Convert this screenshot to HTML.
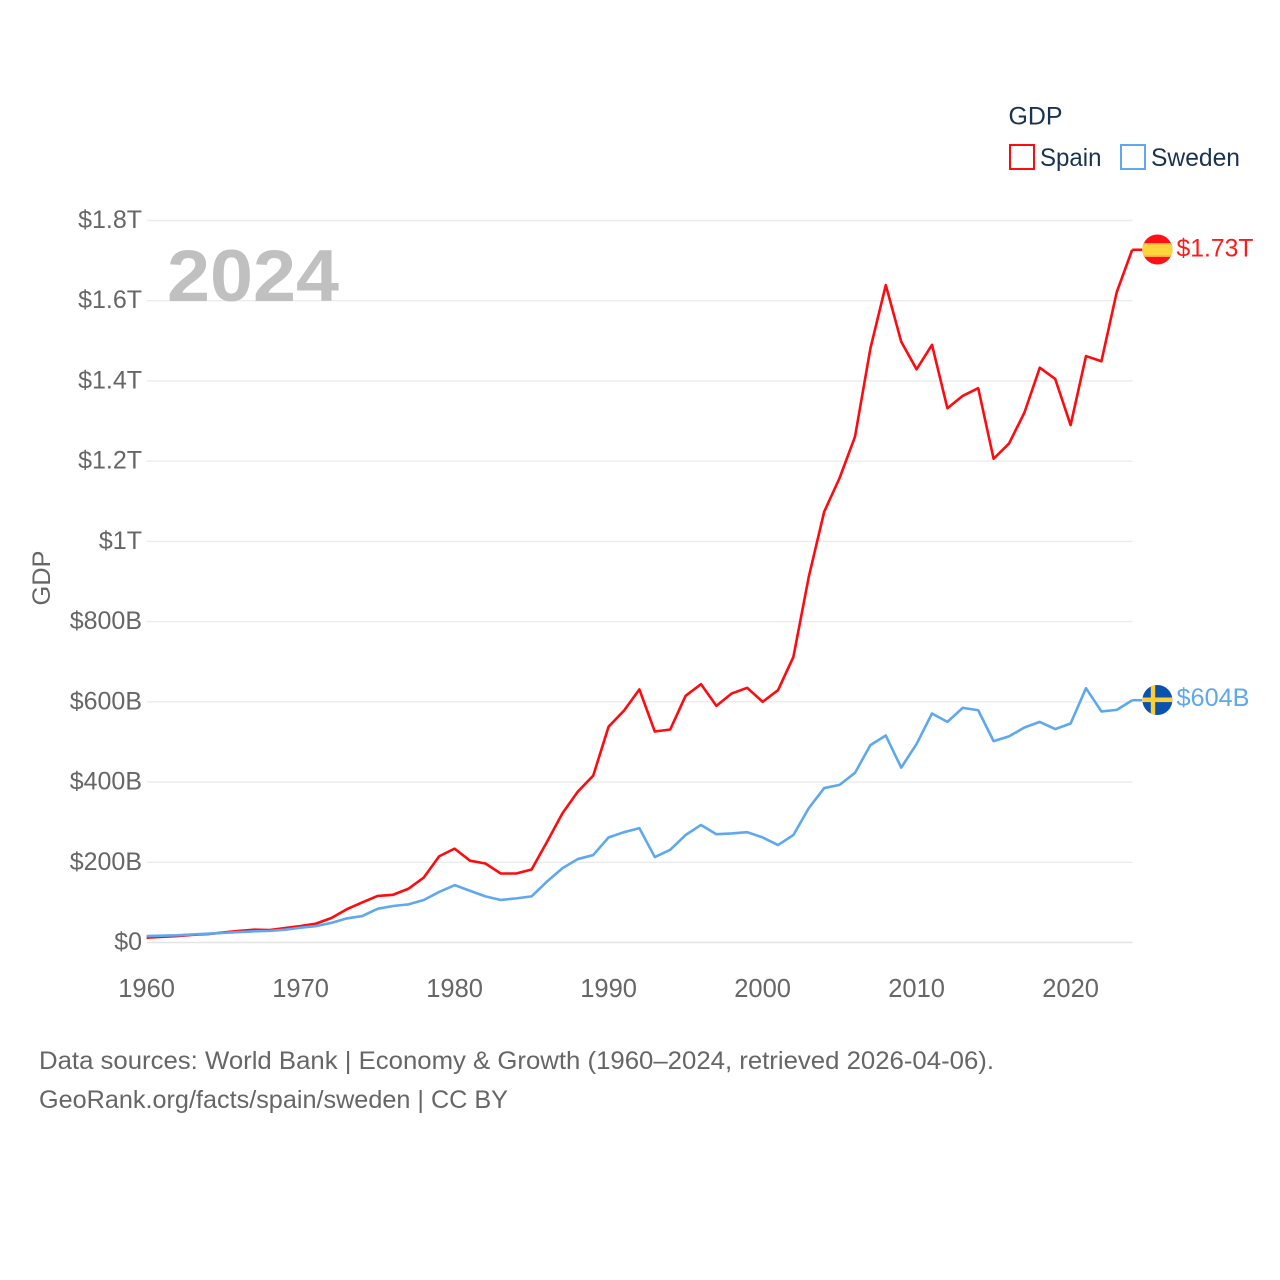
<!DOCTYPE html>
<html lang="en">
<head>
<meta charset="utf-8">
<title>GDP: Spain and Sweden</title>
<style>
html,body{margin:0;padding:0;background:#fff;}
svg{display:block;font-family:"Liberation Sans",sans-serif;}
</style>
</head>
<body>
<svg id="chart" xmlns="http://www.w3.org/2000/svg" width="1280" height="1280" viewBox="0 0 1280 1280">
  <rect x="0" y="0" width="1280" height="1280" fill="#ffffff"/>
  <g id="grid"></g>
  <g id="yticks"></g>
  <g id="xticks"></g>
  <text x="167" y="301" font-size="73" font-weight="700" fill="#c0c0c0" textLength="172" lengthAdjust="spacingAndGlyphs">2024</text>
  <text transform="translate(50,578) rotate(-90)" text-anchor="middle" font-size="25" fill="#666666" textLength="55" lengthAdjust="spacingAndGlyphs">GDP</text>
  <g id="series"></g>
  <defs>
    <clipPath id="clip-es"><circle cx="1157.4" cy="249.5" r="15"/></clipPath>
    <clipPath id="clip-se"><circle cx="1157.4" cy="700" r="15"/></clipPath>
  </defs>
  <g clip-path="url(#clip-es)">
    <rect x="1142" y="234" width="31" height="31" fill="#ff0f17"/>
    <rect x="1142" y="243" width="31" height="14" fill="#f7a83a"/>
    <rect x="1142" y="244.5" width="31" height="11" fill="#ffd53d"/>
  </g>
  <g clip-path="url(#clip-se)">
    <rect x="1142" y="685" width="31" height="31" fill="#0b52ae"/>
    <rect x="1150.8" y="685" width="4.4" height="31" fill="#fdcf33"/>
    <rect x="1142" y="697.5" width="31" height="4.6" fill="#fdcf33"/>
  </g>
  <text id="label-es" x="1176.5" y="256.5" font-size="25" fill="#ff1a1a" textLength="77" lengthAdjust="spacingAndGlyphs"></text>
  <text id="label-se" x="1176.5" y="706" font-size="25" fill="#5ea8ee" textLength="73" lengthAdjust="spacingAndGlyphs"></text>
  <g>
    <text x="1008.5" y="124.5" font-size="25" fill="#1b3352" textLength="54" lengthAdjust="spacingAndGlyphs">GDP</text>
    <rect x="1010" y="145" width="24" height="24" fill="none" stroke="#ff0a0f" stroke-width="2"/>
    <text x="1040" y="166" font-size="25" fill="#1b3352" textLength="61.5" lengthAdjust="spacingAndGlyphs">Spain</text>
    <rect x="1121" y="145" width="24" height="24" fill="none" stroke="#5ea8ee" stroke-width="2"/>
    <text x="1151" y="166" font-size="25" fill="#1b3352" textLength="89" lengthAdjust="spacingAndGlyphs">Sweden</text>
  </g>
  <text x="39" y="1069" font-size="25" fill="#666666" textLength="955" lengthAdjust="spacingAndGlyphs">Data sources: World Bank | Economy &amp; Growth (1960–2024, retrieved 2026-04-06).</text>
  <text x="39" y="1108" font-size="25" fill="#666666" textLength="469" lengthAdjust="spacingAndGlyphs">GeoRank.org/facts/spain/sweden | CC BY</text>
</svg>
<script>
const years = [1960,1961,1962,1963,1964,1965,1966,1967,1968,1969,1970,1971,1972,1973,1974,1975,1976,1977,1978,1979,1980,1981,1982,1983,1984,1985,1986,1987,1988,1989,1990,1991,1992,1993,1994,1995,1996,1997,1998,1999,2000,2001,2002,2003,2004,2005,2006,2007,2008,2009,2010,2011,2012,2013,2014,2015,2016,2017,2018,2019,2020,2021,2022,2023,2024];
const spainValues = [12,14,16,19,21,25,29,32,31,36,41,47,61,83,100,116,119,134,162,215,234,204,197,172,172,182,251,322,376,416,538,578,631,526,531,615,644,590,621,635,600,629,712,912,1074,1158,1261,1481,1639,1498,1429,1490,1332,1363,1382,1206,1244,1321,1433,1405,1290,1462,1449,1622,1727];
const swedenValues = [16,17,18,20,22,24,26,28,29,32,37,41,49,60,66,84,91,95,106,126,143,129,115,106,110,115,152,185,208,218,262,275,285,213,231,268,293,270,272,275,262,243,268,335,385,393,423,492,516,436,495,571,550,585,579,502,514,536,550,532,546,634,576,580,604];
const yTickValues = [0,200,400,600,800,1000,1200,1400,1600,1800];
const yTickLabels = ["$0","$200B","$400B","$600B","$800B","$1T","$1.2T","$1.4T","$1.6T","$1.8T"];
const xTickYears = [1960,1970,1980,1990,2000,2010,2020];
const spainEndLabel = "$1.73T";
const swedenEndLabel = "$604B";

const NS = "http://www.w3.org/2000/svg";
const xScale = function (year) { return 146.6 + (year - 1960) * (1132.2 - 146.6) / 64; };
const yScale = function (value) { return 942.5 - value * (942.5 - 220.5) / 1800; };

const gridGroup = document.getElementById("grid");
const yTickGroup = document.getElementById("yticks");
const xTickGroup = document.getElementById("xticks");
const seriesGroup = document.getElementById("series");

yTickValues.forEach(function (v, i) {
  const line = document.createElementNS(NS, "line");
  
  
  line.setAttribute("x1", 147);
  line.setAttribute("x2", 1132.6);
  line.setAttribute("y1", yScale(v));
  line.setAttribute("y2", yScale(v));
  line.setAttribute("stroke", i === 0 ? "#e4e4e4" : "#ebebeb");
  line.setAttribute("stroke-width", 1.4);
  gridGroup.appendChild(line);

  const label = document.createElementNS(NS, "text");
  
  
  label.setAttribute("x", 142);
  label.setAttribute("y", yScale(v) + 7.5);
  label.setAttribute("text-anchor", "end");
  label.setAttribute("font-size", 25);
  label.setAttribute("fill", "#666666");
  label.textContent = yTickLabels[i];
  yTickGroup.appendChild(label);
});

xTickYears.forEach(function (yr) {
  const label = document.createElementNS(NS, "text");
  
  
  label.setAttribute("x", xScale(yr));
  label.setAttribute("y", 997);
  label.setAttribute("text-anchor", "middle");
  label.setAttribute("font-size", 25.5);
  label.setAttribute("fill", "#666666");
  label.textContent = String(yr);
  xTickGroup.appendChild(label);
});

const buildPoints = function (values) {
  return values.map(function (v, i) {
    return xScale(years[i]).toFixed(2) + "," + yScale(v).toFixed(2);
  }).join(" ");
};

const spainLine = document.createElementNS(NS, "polyline");


spainLine.setAttribute("points", buildPoints(spainValues));
spainLine.setAttribute("fill", "none");
spainLine.setAttribute("stroke", "#ff0a0f");
spainLine.setAttribute("stroke-width", 2.6);
spainLine.setAttribute("stroke-linejoin", "round");
seriesGroup.appendChild(spainLine);

const swedenLine = document.createElementNS(NS, "polyline");


swedenLine.setAttribute("points", buildPoints(swedenValues));
swedenLine.setAttribute("fill", "none");
swedenLine.setAttribute("stroke", "#5ea8ee");
swedenLine.setAttribute("stroke-width", 2.6);
swedenLine.setAttribute("stroke-linejoin", "round");
seriesGroup.appendChild(swedenLine);

const lastYear = years[years.length - 1];
const spainLast = spainValues[spainValues.length - 1];
const swedenLast = swedenValues[swedenValues.length - 1];

const spainConnector = document.createElementNS(NS, "line");


spainConnector.setAttribute("x1", xScale(lastYear));
spainConnector.setAttribute("x2", xScale(lastYear) + 10);
spainConnector.setAttribute("y1", yScale(spainLast));
spainConnector.setAttribute("y2", yScale(spainLast));
spainConnector.setAttribute("stroke", "#ff0a0f");
spainConnector.setAttribute("stroke-width", 2.6);
seriesGroup.appendChild(spainConnector);

const swedenConnector = document.createElementNS(NS, "line");


swedenConnector.setAttribute("x1", xScale(lastYear));
swedenConnector.setAttribute("x2", xScale(lastYear) + 10);
swedenConnector.setAttribute("y1", yScale(swedenLast));
swedenConnector.setAttribute("y2", yScale(swedenLast));
swedenConnector.setAttribute("stroke", "#5ea8ee");
swedenConnector.setAttribute("stroke-width", 2.6);
seriesGroup.appendChild(swedenConnector);

document.getElementById("label-es").textContent = spainEndLabel;
document.getElementById("label-se").textContent = swedenEndLabel;
</script>
</body>
</html>
